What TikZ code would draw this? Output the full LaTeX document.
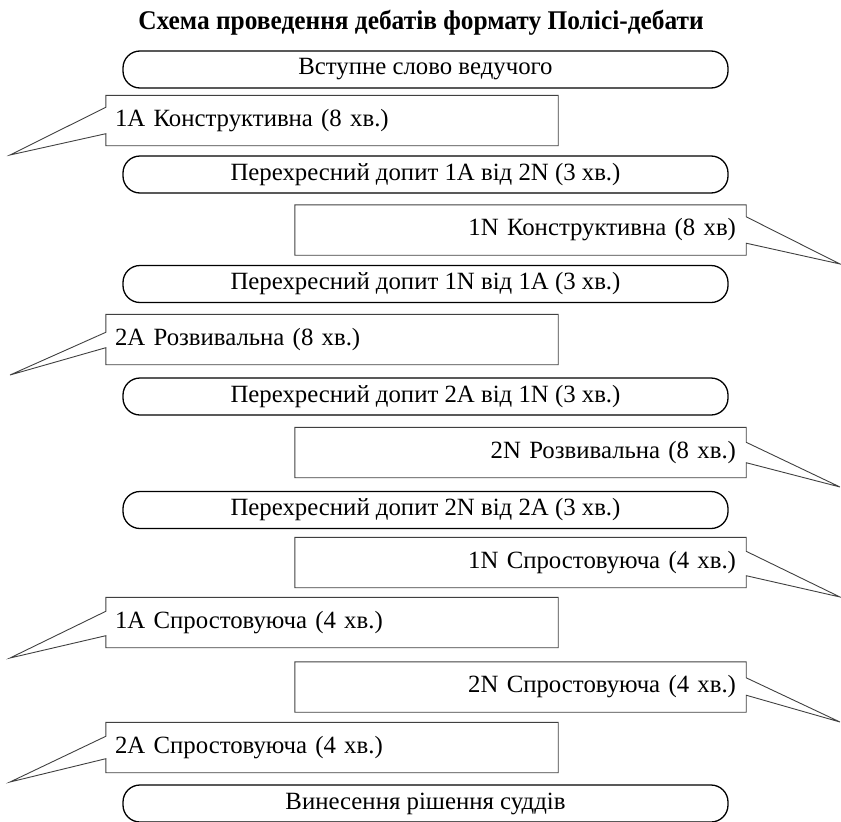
\documentclass[tikz,border=0pt]{standalone}
\usepackage{fontspec}
\setmainfont{Liberation Serif}
\newfontfamily\titlefont[FakeStretch=0.94]{Liberation Serif}
\usepackage{tikz}
\usetikzlibrary{positioning, calc}
\tikzset{
	stagebox/.style={
			draw=black,
			line width=1.3pt,
			rounded corners=17pt,
			minimum width=605pt,
			minimum height=37pt,
			inner sep=0pt,
			font=\fontsize{24.8}{28}\selectfont
		},
	speechleft/.style={
			text width=434pt,
			align=left,
			inner xsep=9pt,
			inner ysep=0pt,
			minimum height=50pt,
			font=\fontsize{24.8}{28}\selectfont
		},
	speechright/.style={
			speechleft,
			align=right,
			text width=431pt,
			inner xsep=10pt
		},
	speechline/.style={
			draw=black!75,
			line width=0.9pt,
			line join=miter
		},
	titletext/.style={
			font=\titlefont\bfseries\fontsize{27}{30}\selectfont,
			inner sep=0pt
		}
}
\begin{document}
\begin{tikzpicture}[x=1pt, y=-1pt]
\useasboundingbox (0,0) rectangle (841,822);
\node[titletext] (title) at (421,23) {Схема проведення дебатів формату Полісі-дебати};

\node[stagebox] (s1) at (425.5,69.5) {Вступне слово ведучого};
\node[speechleft] (l1) at (332,120.5) {1A Конструктивна (8 хв.)};
\node[stagebox] (s2) at (425.5,174.5) {Перехресний допит 1A від 2N (3 хв.)};
\node[speechright] (r1) at (520.5,230) {1N Конструктивна (8 хв)};
\node[stagebox] (s3) at (425.5,284) {Перехресний допит 1N від 1A (3 хв.)};
\node[speechleft] (l2) at (332,339.5) {2A Розвивальна (8 хв.)};
\node[stagebox] (s4) at (425.5,396.5) {Перехресний допит 2A від 1N (3 хв.)};
\node[speechright] (r2) at (520.5,452.5) {2N Розвивальна (8 хв.)};
\node[stagebox] (s5) at (425.5,510) {Перехресний допит 2N від 2A (3 хв.)};
\node[speechright] (r3) at (520.5,562.5) {1N Спростовуюча (4 хв.)};
\node[speechleft] (l3) at (332,622.5) {1A Спростовуюча (4 хв.)};
\node[speechright] (r4) at (520.5,687) {2N Спростовуюча (4 хв.)};
\node[speechleft] (l4) at (332,747.5) {2A Спростовуюча (4 хв.)};
\node[stagebox] (s6) at (425.5,803.5) {Винесення рішення суддів};

% pointer tips
\coordinate (tl1) at (10,155);
\coordinate (tr1) at (840,264);
\coordinate (tl2) at (10,375);
\coordinate (tr2) at (840,487);
\coordinate (tr3) at (840,597);
\coordinate (tl3) at (10,658);
\coordinate (tr4) at (840,722);
\coordinate (tl4) at (10,782);

\draw[speechline] (l1.north west) -- ([yshift=-12pt]l1.north west) -- (tl1) -- ([yshift=12pt]l1.south west) -- (l1.south west) -- (l1.south east) -- (l1.north east) -- cycle;
\draw[speechline] (r1.north east) -- ([yshift=-12pt]r1.north east) -- (tr1) -- ([yshift=12pt]r1.south east) -- (r1.south east) -- (r1.south west) -- (r1.north west) -- cycle;
\draw[speechline] (l2.north west) -- ([yshift=-18pt]l2.north west) -- (tl2) -- ([yshift=17pt]l2.south west) -- (l2.south west) -- (l2.south east) -- (l2.north east) -- cycle;
\draw[speechline] (r2.north east) -- ([yshift=-15pt]r2.north east) -- (tr2) -- ([yshift=15pt]r2.south east) -- (r2.south east) -- (r2.south west) -- (r2.north west) -- cycle;
\draw[speechline] (r3.north east) -- ([yshift=-14pt]r3.north east) -- (tr3) -- ([yshift=12pt]r3.south east) -- (r3.south east) -- (r3.south west) -- (r3.north west) -- cycle;
\draw[speechline] (l3.north west) -- ([yshift=-14pt]l3.north west) -- (tl3) -- ([yshift=12pt]l3.south west) -- (l3.south west) -- (l3.south east) -- (l3.north east) -- cycle;
\draw[speechline] (r4.north east) -- ([yshift=-16pt]r4.north east) -- (tr4) -- ([yshift=17pt]r4.south east) -- (r4.south east) -- (r4.south west) -- (r4.north west) -- cycle;
\draw[speechline] (l4.north west) -- ([yshift=-14pt]l4.north west) -- (tl4) -- ([yshift=14pt]l4.south west) -- (l4.south west) -- (l4.south east) -- (l4.north east) -- cycle;
\end{tikzpicture}
\end{document}
